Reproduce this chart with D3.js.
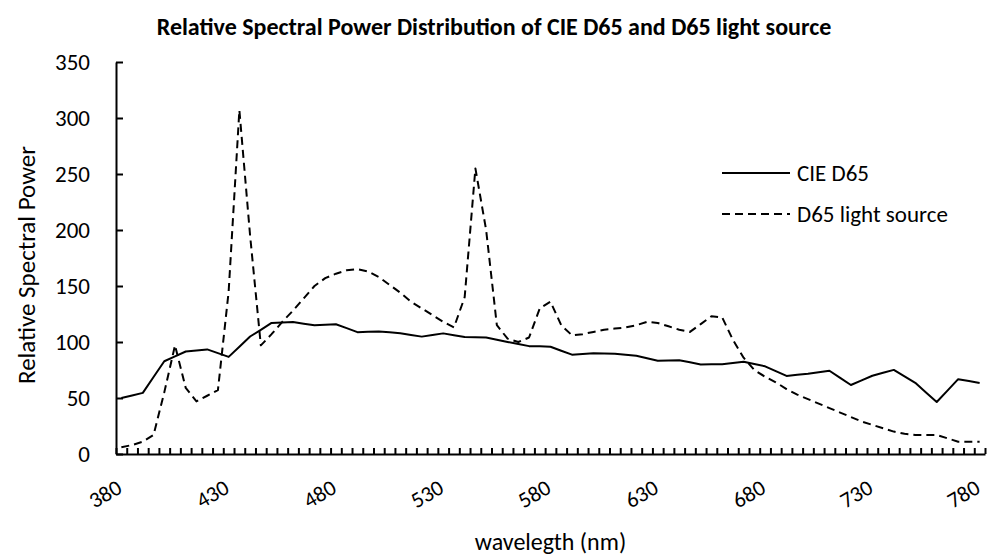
<!DOCTYPE html>
<html lang="en">
<head>
<meta charset="utf-8">
<title>Relative Spectral Power Distribution</title>
<script src="https://cdn.jsdelivr.net/npm/d3@7"></script>
<style>
  body { margin: 0; background: #fff; }
  text { font-family: Calibri, Carlito, Lato, sans-serif; fill: #000; }
  .axis path, .axis line { stroke: #000; stroke-width: 2px; }
  .line { fill: none; stroke: #000; stroke-width: 2px; stroke-linejoin: round; }
  .dashed { stroke-dasharray: 8, 5; }
</style>
</head>
<body>
<svg width="988" height="557"></svg>
<script>
// wavelength categories (nm), 5 nm steps
var wavelengths = [380, 385, 390, 395, 400, 405, 410, 415, 420, 425, 430, 435, 440, 445, 450, 455, 460, 465, 470, 475,
  480, 485, 490, 495, 500, 505, 510, 515, 520, 525, 530, 535, 540, 545, 550, 555, 560, 565, 570, 575,
  580, 585, 590, 595, 600, 605, 610, 615, 620, 625, 630, 635, 640, 645, 650, 655, 660, 665, 670, 675,
  680, 685, 690, 695, 700, 705, 710, 715, 720, 725, 730, 735, 740, 745, 750, 755, 760, 765, 770, 775, 780];

var cieD65 = [50.0, 52.3, 54.6, 68.7, 82.8, 87.1, 91.5, 92.5, 93.4, 90.1, 86.7, 95.8, 104.9, 110.9, 117.0, 117.4, 117.8, 116.3, 114.9, 115.4,
  115.9, 112.4, 108.8, 109.1, 109.4, 108.6, 107.8, 106.3, 104.8, 106.2, 107.7, 106.0, 104.4, 104.2, 104.0, 102.0, 100.0, 98.2, 96.3, 96.1,
  95.8, 92.2, 88.7, 89.3, 90.0, 89.8, 89.6, 88.6, 87.7, 85.5, 83.3, 83.5, 83.7, 81.9, 80.0, 80.1, 80.2, 81.2, 82.3, 80.3,
  78.3, 74.0, 69.7, 70.7, 71.6, 73.0, 74.3, 68.0, 61.6, 65.7, 69.9, 72.5, 75.1, 69.3, 63.6, 55.0, 46.4, 56.6, 66.8, 65.1, 63.4];

var lightSource = [6, 8, 11, 17, 55, 97, 59, 47, 52, 57, 145, 307, 195, 97, 107, 118, 128, 139, 150, 157,
  161, 164, 165, 163, 158, 151, 144, 136, 130, 124, 118, 113, 140, 255, 200, 115, 103, 100, 104, 130,
  136, 115, 106, 107, 109, 111, 112, 113, 115, 118, 117, 114, 111, 109, 116, 123, 122, 102, 86, 75,
  69, 64, 58, 53, 49, 45, 41, 37, 33, 29, 26, 23, 20, 18, 17, 17, 17, 14, 11, 11, 11];

var yTicks = [0, 50, 100, 150, 200, 250, 300, 350];
var xLabels = [380, 430, 480, 530, 580, 630, 680, 730, 780];

var seriesNames = ["CIE D65", "D65 light source"];

var svg = d3.select("svg"),
    margin = {top: 62, right: 3, bottom: 103, left: 116},
    width = +svg.attr("width") - margin.left - margin.right,
    height = +svg.attr("height") - margin.top - margin.bottom,
    g = svg.append("g").attr("transform", "translate(" + margin.left + "," + margin.top + ")");

var x = d3.scaleBand().domain(wavelengths).range([0, width]).padding(0);
// boundaries between categories for tick marks
var xb = d3.scaleLinear().domain([0, wavelengths.length]).range([0, width]);
var y = d3.scaleLinear().domain([0, 350]).range([height, 0]);

function cx(w) { return x(w) + x.bandwidth() / 2; }

// x axis: tick marks between categories, pointing up
g.append("g")
    .attr("class", "axis axis--x")
    .attr("transform", "translate(0," + height + ")")
    .call(d3.axisBottom(xb)
      .tickValues(d3.range(0, wavelengths.length + 1))
      .tickSizeInner(-6).tickSizeOuter(0)
      .tickFormat(""));

g.selectAll(".xlabel")
    .data(xLabels)
  .enter().append("text")
    .attr("class", "xlabel")
    .attr("text-anchor", "end")
    .attr("transform", function(d) { return "translate(" + (cx(d) + 2) + "," + (height + 38) + ") rotate(-30)"; })
    .style("font-size", "22px")
    .text(function(d) { return d; });

// y axis: ticks pointing right
var yAxis = g.append("g")
    .attr("class", "axis axis--y")
    .call(d3.axisLeft(y)
      .tickValues(yTicks)
      .tickSizeInner(-7).tickSizeOuter(0)
      .tickPadding(26));
yAxis.selectAll("text").style("font-size", "23px").attr("fill", "#000");

var line = d3.line()
    .x(function(d) { return cx(d.w); })
    .y(function(d) { return y(d.v); });

var cieData = wavelengths.map(function(w, i) { return {w: w, v: cieD65[i]}; });
var srcData = wavelengths.map(function(w, i) { return {w: w, v: lightSource[i]}; });

g.append("path")
    .datum(cieData)
    .attr("class", "line")
    .attr("d", line);

g.append("path")
    .datum(srcData)
    .attr("class", "line dashed")
    .attr("d", line);

// title
svg.append("text")
    .attr("x", 494)
    .attr("y", 35)
    .attr("text-anchor", "middle")
    .style("font-size", "24px")
    .style("font-weight", "bold")
    .text("Relative Spectral Power Distribution of CIE D65 and D65 light source");

// axis titles
svg.append("text")
    .attr("transform", "translate(35,265) rotate(-90)")
    .attr("text-anchor", "middle")
    .style("font-size", "25px")
    .text("Relative Spectral Power");

svg.append("text")
    .attr("x", margin.left + width / 2)
    .attr("y", 550)
    .attr("text-anchor", "middle")
    .style("font-size", "24px")
    .text("wavelegth (nm)");

// legend
var legend = svg.append("g").attr("transform", "translate(722,173)");
seriesNames.forEach(function(name, i) {
  var row = legend.append("g").attr("transform", "translate(0," + (i * 41) + ")");
  row.append("line")
      .attr("class", "line" + (i === 1 ? " dashed" : ""))
      .attr("x1", 0).attr("x2", 68)
      .attr("y1", 0).attr("y2", 0);
  row.append("text")
      .attr("x", 75)
      .attr("dy", "0.35em")
      .style("font-size", "23px")
      .text(name);
});
</script>
</body>
</html>
